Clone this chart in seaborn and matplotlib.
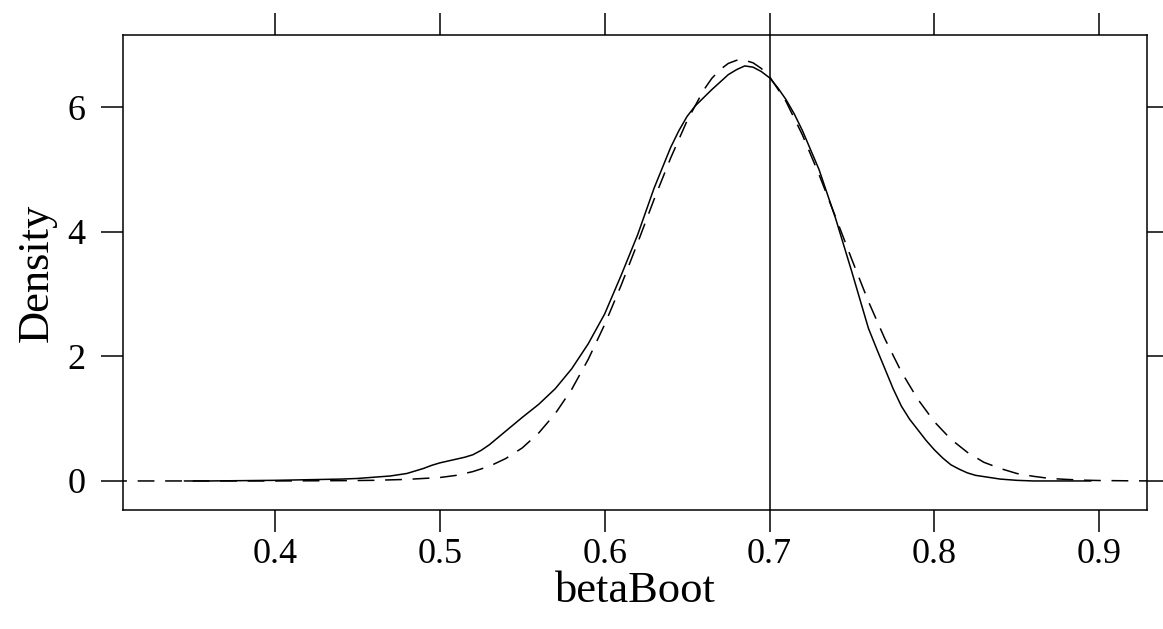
import numpy as np
import pandas as pd
import matplotlib
matplotlib.use("Agg")
import matplotlib.pyplot as plt
import seaborn as sns

# Kernel density estimate of betaBoot (solid line)
kde_x = [0.345, 0.36, 0.38, 0.40, 0.42, 0.44, 0.45, 0.46, 0.47, 0.475, 0.48, 0.485,
         0.49, 0.495, 0.50, 0.505, 0.51, 0.515, 0.52, 0.525, 0.53, 0.535, 0.54,
         0.55, 0.56, 0.57, 0.58, 0.59, 0.60, 0.61, 0.62, 0.63, 0.64, 0.645, 0.65,
         0.655, 0.66, 0.665, 0.67, 0.675, 0.68, 0.685, 0.69, 0.695, 0.70, 0.705,
         0.71, 0.715, 0.72, 0.73, 0.74, 0.75, 0.76, 0.765, 0.77, 0.775, 0.78,
         0.785, 0.79, 0.795, 0.80, 0.805, 0.81, 0.815, 0.82, 0.825, 0.83, 0.84,
         0.85, 0.86, 0.895]
kde_y = [0.0, 0.0, 0.005, 0.01, 0.02, 0.03, 0.04, 0.06, 0.08, 0.10, 0.12, 0.16,
         0.20, 0.25, 0.29, 0.32, 0.35, 0.38, 0.42, 0.49, 0.58, 0.69, 0.80,
         1.02, 1.23, 1.48, 1.80, 2.20, 2.68, 3.30, 3.95, 4.70, 5.35, 5.62, 5.85,
         6.02, 6.15, 6.28, 6.40, 6.52, 6.60, 6.66, 6.64, 6.57, 6.47, 6.31,
         6.12, 5.89, 5.62, 5.00, 4.22, 3.35, 2.45, 2.12, 1.80, 1.48, 1.20,
         0.99, 0.82, 0.65, 0.50, 0.37, 0.26, 0.19, 0.13, 0.09, 0.07, 0.03,
         0.01, 0.0, 0.0]

# Reference normal density (dashed line)
norm_x = [0.30, 0.40, 0.44, 0.46, 0.48, 0.50, 0.51, 0.52, 0.53, 0.54, 0.55, 0.56,
          0.57, 0.58, 0.59, 0.60, 0.61, 0.62, 0.63, 0.64, 0.65, 0.66, 0.665, 0.67,
          0.675, 0.68, 0.685, 0.69, 0.695, 0.70, 0.71, 0.72, 0.73, 0.74, 0.75,
          0.76, 0.77, 0.78, 0.79, 0.80, 0.81, 0.82, 0.83, 0.84, 0.85, 0.86, 0.87,
          0.88, 0.89, 0.90, 0.92, 0.94]
norm_y = [0.0, 0.0, 0.005, 0.01, 0.025, 0.055, 0.09, 0.15, 0.235, 0.36, 0.53, 0.77,
          1.08, 1.47, 1.95, 2.51, 3.14, 3.82, 4.52, 5.18, 5.78, 6.27, 6.46, 6.60,
          6.70, 6.75, 6.75, 6.71, 6.62, 6.49, 6.09, 5.55, 4.92, 4.24, 3.55,
          2.88, 2.28, 1.75, 1.31, 0.95, 0.67, 0.46, 0.30, 0.20, 0.12, 0.075, 0.04,
          0.025, 0.013, 0.007, 0.002, 0.0]

ref_value = 0.7
x_ticks = [0.4, 0.5, 0.6, 0.7, 0.8, 0.9]
y_ticks = [0, 2, 4, 6]
x_label = "betaBoot"
y_label = "Density"

sns.set_style("ticks")
plt.rcParams['font.family'] = ['Liberation Serif', 'DejaVu Serif']
plt.rcParams['axes.linewidth'] = 1.1
plt.rcParams['text.color'] = 'black'
plt.rcParams['axes.labelcolor'] = 'black'
plt.rcParams['xtick.color'] = 'black'
plt.rcParams['ytick.color'] = 'black'

fig = plt.figure(figsize=(11.63, 6.29), dpi=100)
ax = fig.add_axes([123 / 1163, 1 - 510 / 629, (1147 - 123) / 1163, (510 - 35) / 629])

kde_df = pd.DataFrame({"x": kde_x, "y": kde_y})
norm_df = pd.DataFrame({"x": norm_x, "y": norm_y})

sns.lineplot(data=norm_df, x="x", y="y", ax=ax, color="black", lw=1.1,
             estimator=None, sort=False)
ax.lines[-1].set_dashes((11, 7))
sns.lineplot(data=kde_df, x="x", y="y", ax=ax, color="black", lw=1.1,
             estimator=None, sort=False)
ax.axvline(ref_value, color="black", lw=1.1)

ax.set_xlim(0.3078, 0.929)
ax.set_ylim(-0.466, 7.156)
ax.set_xticks(x_ticks)
ax.set_xticklabels([f"{v:.1f}" for v in x_ticks])
ax.set_yticks(y_ticks)
ax.set_yticklabels([str(v) for v in y_ticks])
ax.tick_params(axis="both", which="both", direction="out", length=16, width=1.1,
               color="black", labelcolor="black", labelsize=26,
               top=True, right=True, labeltop=False, labelright=False)
ax.tick_params(axis="x", pad=4)
ax.tick_params(axis="y", pad=11)
for s in ax.spines.values():
    s.set_visible(True)
    s.set_color("black")
ax.set_xlabel(x_label, fontsize=32, labelpad=0)
ax.set_ylabel(y_label, fontsize=32, labelpad=8)

fig.savefig("out.png", dpi=100)
